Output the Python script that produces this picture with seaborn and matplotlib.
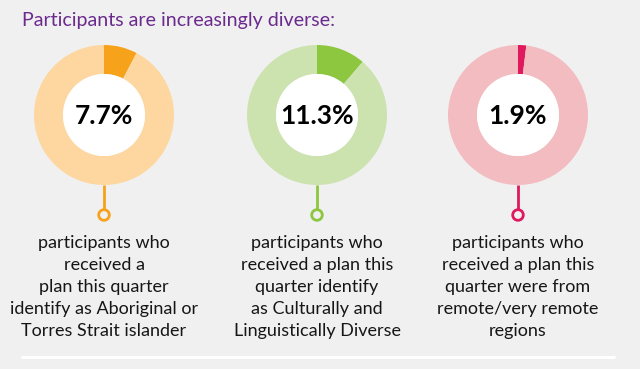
import matplotlib
matplotlib.use('Agg')
import matplotlib.pyplot as plt
from matplotlib.patches import Circle
import seaborn as sns

# data
groups = ['Aboriginal or Torres Strait Islander', 'Culturally and Linguistically Diverse', 'Remote/very remote']
share_pct = [7.7, 11.3, 1.9]
value_labels = ['7.7%', '11.3%', '1.9%']
descriptions = [
    ['participants who', 'received a', 'plan this quarter', 'identify as Aboriginal or', 'Torres Strait islander'],
    ['participants who', 'received a plan this', 'quarter identify', 'as Culturally and', 'Linguistically Diverse'],
    ['participants who', 'received a plan this', 'quarter were from', 'remote/very remote', 'regions'],
]
title = 'Participants are increasingly diverse:'

dark_colors = ['#f7a21b', '#8dc63f', '#e0195f']
light_colors = ['#fed7a0', '#cce3b0', '#f2bcc1']
bg = '#f0f0f0'

sns.set_style('white', {'axes.facecolor': bg, 'figure.facecolor': bg})
plt.rcParams['font.family'] = ['Lato', 'DejaVu Sans']

W, H = 640, 369
fig = plt.figure(figsize=(W / 100, H / 100), dpi=100)
ax = fig.add_axes([0, 0, 1, 1])

centers_x = [104, 317, 518]
cy = H - 115
r_out, r_in = 70, 41

for i, pct in enumerate(share_pct):
    cx = centers_x[i]
    ax.pie([pct, 100 - pct], colors=[dark_colors[i], light_colors[i]],
           center=(cx, cy), radius=r_out, startangle=90, counterclock=False,
           wedgeprops=dict(width=r_out - r_in, linewidth=0))
    ax.add_patch(Circle((cx, cy), r_in, facecolor='white', edgecolor='none', zorder=3))
    ax.text(cx, cy - 1, value_labels[i], ha='center', va='center', fontsize=19,
            fontweight='bold', color='black', zorder=4)
    # connector stem and ring marker
    ax.plot([cx, cx], [cy - r_out, H - 209], color=dark_colors[i], lw=2, solid_capstyle='butt')
    ax.add_patch(Circle((cx, H - 215), 5.3, facecolor=bg, edgecolor=dark_colors[i], lw=2, zorder=3))
    for j, line in enumerate(descriptions[i]):
        ax.text(cx, H - (248 + 22 * j), line, ha='center', va='baseline',
                fontsize=13, color='#161616')

ax.text(22, H - 26, title, ha='left', va='baseline', fontsize=14.1, color='#6b2a8e')
ax.plot([21, 615], [H - 357, H - 357], color='white', lw=2.2, solid_capstyle='butt')

ax.set_xlim(0, W)
ax.set_ylim(0, H)
ax.set_aspect('equal')
ax.axis('off')

fig.savefig('out.png', dpi=100, facecolor=bg)
